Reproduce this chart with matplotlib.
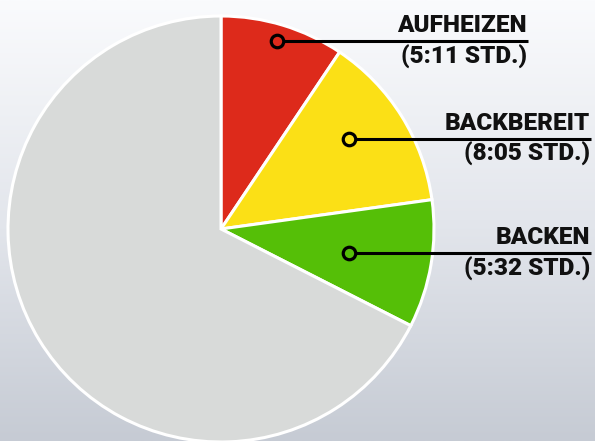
import numpy as np
import matplotlib
matplotlib.use("Agg")
import matplotlib.pyplot as plt
from matplotlib.colors import LinearSegmentedColormap

# slice shares (%), clockwise from 12 o'clock
phases = ["AUFHEIZEN", "BACKBEREIT", "BACKEN", "REST"]
shares = [9.4, 13.4, 9.7, 67.5]
times = ["(5:11 STD.)", "(8:05 STD.)", "(5:32 STD.)", None]
colors = ["#dd2a1b", "#fbe016", "#55bf07", "#d8dad9"]

W, H = 595, 441
fig = plt.figure(figsize=(W / 100, H / 100), dpi=100)
ax = fig.add_axes([0, 0, 1, 1])

# background gradient, white at top to a cool grey at the bottom
grad = np.linspace(0, 1, 256).reshape(-1, 1)
bg = LinearSegmentedColormap.from_list("bg", ["#c6cbd4", "#e3e6ec", "#fafbfd"])
ax.imshow(grad, cmap=bg, extent=(0, W, 0, H), aspect="auto", origin="lower", zorder=0)

# pie, center/radius in pixel units
cx, cy, R = 221, H - 229, 213
wedges, _ = ax.pie(shares, colors=colors, startangle=90, counterclock=False,
                   center=(cx, cy), radius=R,
                   wedgeprops=dict(edgecolor="white", linewidth=2.2))
for w in wedges:
    w.set_zorder(2)

# callouts
r_frac = [0.92, 0.735, 0.61]
ang_nudge = [0.2, 3.2, -1.3]
line_end = [528, 591, 591]
for i in range(3):
    w = wedges[i]
    mid = np.deg2rad((w.theta1 + w.theta2) / 2 + ang_nudge[i])
    mx = cx + r_frac[i] * R * np.cos(mid)
    my = cy + r_frac[i] * R * np.sin(mid)
    ax.plot([mx, line_end[i]], [my, my], color="black", lw=2.2, zorder=3,
            solid_capstyle="butt")
    ax.plot(mx, my, "o", ms=9, mfc=colors[i], mec="black", mew=2.3, zorder=4)
    ax.text(line_end[i] - 1, my + 4, phases[i], ha="right", va="bottom",
            fontsize=17.5, fontweight="heavy", family="Roboto", color="#111111", zorder=5)
    ax.text(line_end[i] - 1, my - 3, times[i], ha="right", va="top",
            fontsize=17.5, fontweight="heavy", family="Roboto", color="#111111", zorder=5)

ax.set_xlim(0, W)
ax.set_ylim(0, H)
ax.set_aspect("auto")
ax.axis("off")

fig.savefig("out.png", dpi=100)
